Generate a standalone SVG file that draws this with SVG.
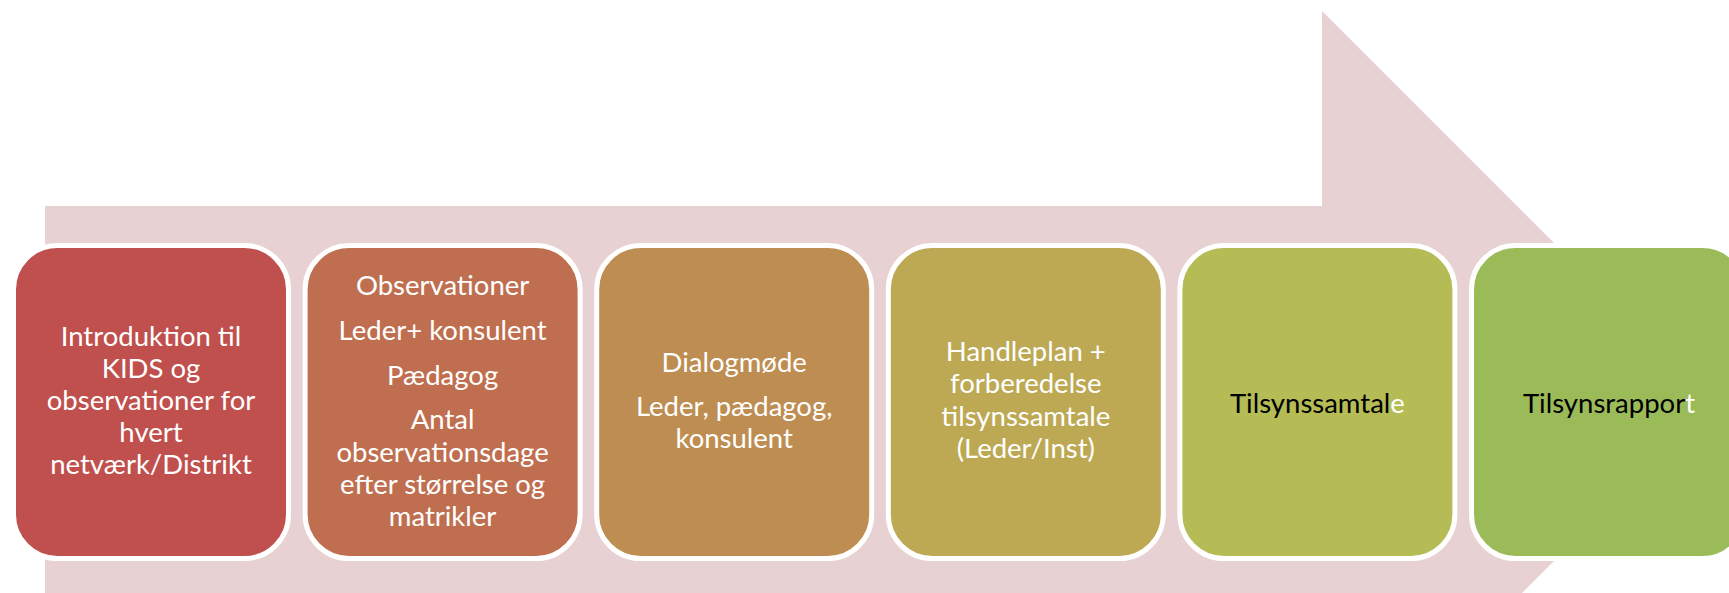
<svg xmlns="http://www.w3.org/2000/svg" width="1729" height="593" viewBox="0 0 1729 593">
  <style>
    .box { stroke: #FFFFFF; stroke-width: 5; }
    .t { font-family: Lato, "Liberation Sans", sans-serif; font-size: 27.5px; fill: #FFFFFF; text-anchor: middle; }
    .dark { fill: #000000; }
    .light { fill: #FFFFFF; }
  </style>
  <rect x="0" y="0" width="1729" height="593" fill="#FFFFFF"/>
  <g id="arrow">
    <polygon points="45,206 1322,206 1322,11 1713,402 1322,793 1322,598 45,598" fill="#E8D1D2"/>
  </g>
  <g id="connectors"></g>
  <g id="node1">
    <rect class="box" x="13.5" y="245.5" width="275" height="313" rx="44" fill="#C0504D"/>
    <text class="t" x="151"><tspan x="151" y="345.5">Introduktion til</tspan><tspan x="151" y="377.7">KIDS og</tspan><tspan x="151" y="409.9">observationer for</tspan><tspan x="151" y="442.1">hvert</tspan><tspan x="151" y="474.3">netværk/Distrikt</tspan></text>
  </g>
  <g id="node2">
    <rect class="box" x="305.1" y="245.5" width="275" height="313" rx="44" fill="#BF6F4F"/>
    <text class="t"><tspan x="442.6" y="295">Observationer</tspan><tspan x="442.6" y="340">Leder+ konsulent</tspan><tspan x="442.6" y="385">Pædagog</tspan><tspan x="442.6" y="429.3">Antal</tspan><tspan x="442.6" y="461.5">observationsdage</tspan><tspan x="442.6" y="493.7">efter størrelse og</tspan><tspan x="442.6" y="525.9">matrikler</tspan></text>
  </g>
  <g id="node3">
    <rect class="box" x="596.7" y="245.5" width="275" height="313" rx="44" fill="#BE8D52"/>
    <text class="t"><tspan x="734.2" y="371.7">Dialogmøde</tspan><tspan x="734.2" y="416">Leder, pædagog,</tspan><tspan x="734.2" y="448.3">konsulent</tspan></text>
  </g>
  <g id="node4">
    <rect class="box" x="888.3" y="245.5" width="275" height="313" rx="44" fill="#BDA954"/>
    <text class="t"><tspan x="1025.8" y="360.6">Handleplan +</tspan><tspan x="1025.8" y="393">forberedelse</tspan><tspan x="1025.8" y="425.5">tilsynssamtale</tspan><tspan x="1025.8" y="458">(Leder/Inst)</tspan></text>
  </g>
  <g id="node5">
    <rect class="box" x="1179.9" y="245.5" width="275" height="313" rx="44" fill="#B5BC56"/>
    <text class="t" x="1317.4" y="412.7"><tspan class="dark">Tilsynssamtal</tspan><tspan class="light">e</tspan></text>
  </g>
  <g id="node6">
    <rect class="box" x="1471.5" y="245.5" width="275" height="313" rx="44" fill="#9BBB59"/>
    <text class="t" x="1609" y="412.7"><tspan class="dark">Tilsynsrappor</tspan><tspan class="light">t</tspan></text>
  </g>
</svg>
